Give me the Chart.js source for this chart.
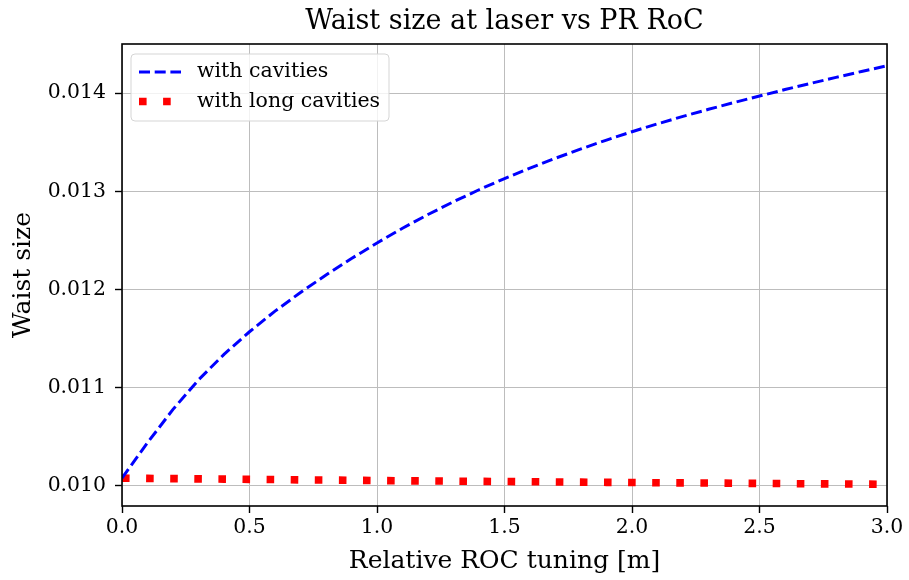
<!DOCTYPE html>
<html>
<head>
<meta charset="utf-8">
<script src="https://cdn.jsdelivr.net/npm/chart.js@4/dist/chart.umd.min.js"></script>
<style>
    html, body { margin: 0; padding: 0; background: #fff; }
    #wrap { width: 909px; height: 580px; }
</style>
</head>
<body>
<div id="wrap"><canvas id="chart" width="909" height="580"></canvas></div>
<script>
// relative ROC tuning [m]
const tuning = [0.0, 0.1, 0.2, 0.3, 0.4, 0.5, 0.6, 0.7, 0.8, 0.9,
    1.0, 1.1, 1.2, 1.3, 1.4, 1.5, 1.6, 1.7, 1.8, 1.9,
    2.0, 2.1, 2.2, 2.3, 2.4, 2.5, 2.6, 2.7, 2.8, 2.9, 3.0];

// waist size
const withCavities = [0.010080, 0.010440, 0.010780, 0.011080, 0.011340, 0.011570, 0.011780, 0.011970, 0.012148, 0.012316,
    0.012474, 0.012624, 0.012764, 0.012894, 0.013016, 0.013130, 0.013237, 0.013337, 0.013432, 0.013522,
    0.013607, 0.013687, 0.013763, 0.013835, 0.013904, 0.013970, 0.014036, 0.014099, 0.014160, 0.014220, 0.014278];

const withLongCavities = [0.010080, 0.010077, 0.010075, 0.010072, 0.010070, 0.010067, 0.010065, 0.010062, 0.010060, 0.010058,
    0.010055, 0.010053, 0.010051, 0.010049, 0.010047, 0.010045, 0.010043, 0.010041, 0.010039, 0.010037,
    0.010035, 0.010033, 0.010031, 0.010030, 0.010028, 0.010026, 0.010024, 0.010022, 0.010021, 0.010019, 0.010017];

const xTicks = [0, 0.5, 1.0, 1.5, 2.0, 2.5, 3.0];
const yTicks = [0.010, 0.011, 0.012, 0.013, 0.014];

const seriesNames = ['with cavities', 'with long cavities'];
const chartTitle = 'Waist size at laser vs PR RoC';

const FONT = "'DejaVu Serif', serif";

function toPoints(xs, ys) {
    return xs.map((x, i) => ({ x: x, y: ys[i] }));
}

// frame, title and legend inside the axes
const extras = {
    id: 'extras',
    afterDraw(chart) {
        const ctx = chart.ctx;
        const a = chart.chartArea;
        ctx.save();
        // frame
        ctx.strokeStyle = '#000';
        ctx.lineWidth = 1.6;
        ctx.strokeRect(a.left, a.top, a.right - a.left, a.bottom - a.top);

        // title
        ctx.fillStyle = '#000';
        ctx.font = '27px ' + FONT;
        ctx.textAlign = 'center';
        ctx.textBaseline = 'middle';
        ctx.fillText(chartTitle, (a.left + a.right) / 2, 22);

        // legend
        const bx = 131, by = 54, bw = 258, bh = 67;
        ctx.beginPath();
        ctx.roundRect(bx, by, bw, bh, 4);
        ctx.fillStyle = 'rgba(255,255,255,0.8)';
        ctx.fill();
        ctx.strokeStyle = '#d5d5d5';
        ctx.lineWidth = 1;
        ctx.stroke();

        const rows = [72, 101.5];
        chart.data.datasets.forEach((ds, i) => {
            ctx.beginPath();
            ctx.strokeStyle = ds.borderColor;
            ctx.lineWidth = ds.borderWidth;
            ctx.setLineDash(ds.borderDash);
            ctx.moveTo(139, rows[i]);
            ctx.lineTo(i === 0 ? 181 : 172, rows[i]);
            ctx.stroke();
            ctx.setLineDash([]);
            ctx.fillStyle = '#000';
            ctx.font = '20.5px ' + FONT;
            ctx.textAlign = 'left';
            ctx.textBaseline = 'middle';
            ctx.fillText(ds.label, 197, rows[i]);
        });
        ctx.restore();
    }
};

const ctx = document.getElementById('chart').getContext('2d');
new Chart(ctx, {
    type: 'line',
    data: {
        datasets: [{
            label: seriesNames[0],
            data: toPoints(tuning, withCavities),
            borderColor: '#0000ff',
            borderWidth: 3,
            borderDash: [11, 4.7],
            pointRadius: 0,
            fill: false,
            tension: 0
        }, {
            label: seriesNames[1],
            data: toPoints(tuning, withLongCavities),
            borderColor: '#ff0000',
            borderWidth: 7.6,
            borderDash: [7.6, 16.5],
            pointRadius: 0,
            fill: false,
            tension: 0
        }]
    },
    plugins: [extras],
    options: {
        responsive: false,
        animation: false,
        devicePixelRatio: 1,
        layout: { padding: { top: 44, right: 22, left: 0, bottom: 0 } },
        plugins: {
            legend: { display: false },
            title: { display: false },
            tooltip: { enabled: false }
        },
        scales: {
            x: {
                type: 'linear',
                min: 0,
                max: 3,
                afterFit(scale) { scale.height = 74; },
                afterBuildTicks(scale) { scale.ticks = xTicks.map(v => ({ value: v })); },
                ticks: {
                    color: '#000',
                    font: { family: FONT, size: 20.4 },
                    padding: 2,
                    maxRotation: 0,
                    callback: v => v.toFixed(1)
                },
                grid: { color: '#bdbdbd', lineWidth: 1, tickColor: '#000', tickLength: 7, tickWidth: 1.4 },
                border: { display: false },
                title: {
                    display: true,
                    text: 'Relative ROC tuning [m]',
                    color: '#000',
                    font: { family: FONT, size: 25 },
                    padding: { top: 0, bottom: 4 }
                }
            },
            y: {
                type: 'linear',
                min: 0.009796,
                max: 0.0145,
                afterFit(scale) { scale.width = 122; },
                afterBuildTicks(scale) { scale.ticks = yTicks.map(v => ({ value: v })); },
                ticks: {
                    color: '#000',
                    font: { family: FONT, size: 20.4 },
                    padding: 9,
                    callback: v => v.toFixed(3)
                },
                grid: { color: '#bdbdbd', lineWidth: 1, tickColor: '#000', tickLength: 7, tickWidth: 1.4 },
                border: { display: false },
                title: {
                    display: true,
                    text: 'Waist size',
                    color: '#000',
                    font: { family: FONT, size: 25 },
                    padding: { top: 8, bottom: 0 }
                }
            }
        }
    }
});
</script>
</body>
</html>
